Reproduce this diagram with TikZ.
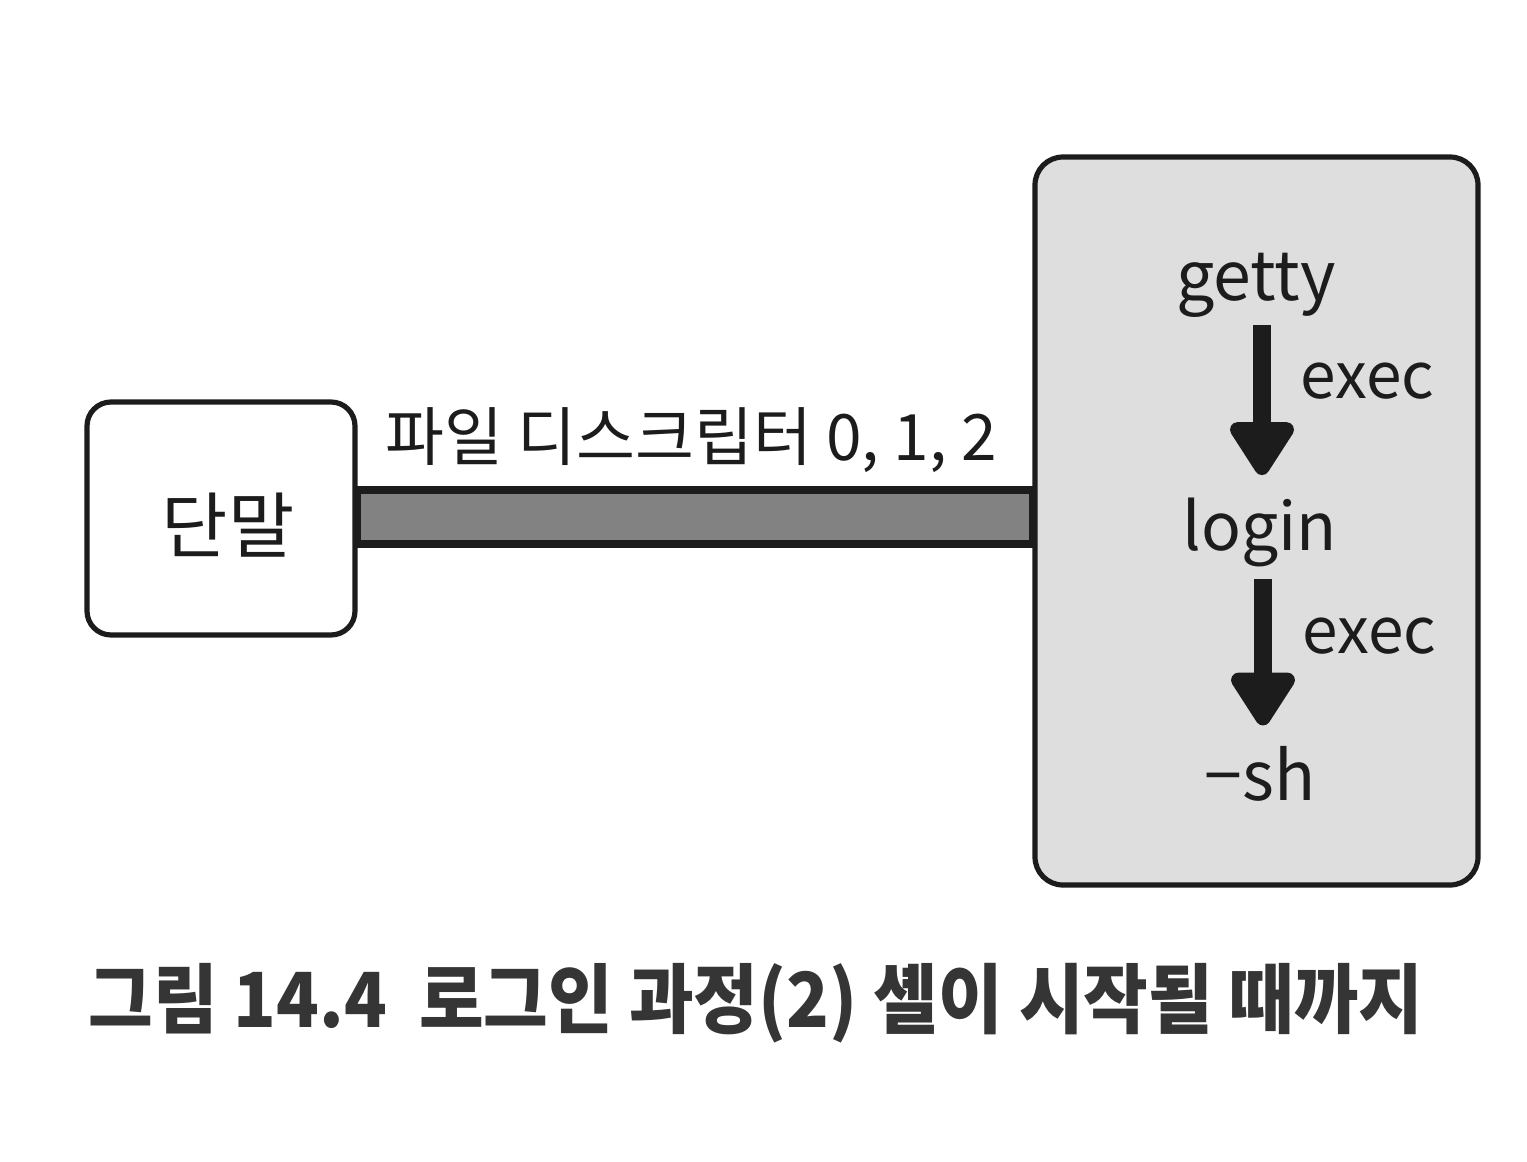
\documentclass[tikz,border=0pt]{standalone}
\usepackage{fontspec}
\setmainfont{Noto Sans CJK KR}
\usetikzlibrary{arrows.meta}
\definecolor{ink}{HTML}{1C1C1C}
\definecolor{capink}{HTML}{353535}
\definecolor{boxfill}{HTML}{DEDEDE}
\definecolor{pipefill}{HTML}{828282}
\tikzset{
  roundbox/.style={draw=ink, line width=2.6pt, rounded corners=12pt, inner sep=0pt},
  proc/.style={font=\fontsize{34pt}{36pt}\selectfont, text=ink, anchor=base, inner sep=0pt},
  lbl/.style={font=\fontsize{32pt}{34pt}\selectfont, text=ink, anchor=base west, inner sep=0pt},
  bigarrow/.style={draw=ink, line width=9pt, -{Triangle[width=36pt,length=30pt,round]}},
}
\begin{document}
\begin{tikzpicture}[x=0.5pt,y=-0.5pt]
\useasboundingbox (0,0) rectangle (1527,1162);
% terminal box
\node[roundbox, fill=white, minimum width=134pt, minimum height=116.5pt] (term) at (221,518.5) {};
\node[font=\fontsize{36pt}{38pt}\selectfont, text=ink, inner sep=0pt] (termtxt) at (228,525) {단말};
% right box
\node[roundbox, fill=boxfill, minimum width=221.5pt, minimum height=364pt, rounded corners=14pt] (host) at (1256.5,521) {};
% pipe
\coordinate (pa) at (term.east |- 0,490);
\coordinate (pb) at (host.west |- 0,544);
\filldraw[fill=pipefill, draw=ink, line width=3.6pt] (pa) rectangle (pb);
\node[lbl] (fd) at (385,460) {파일 디스크립터 0, 1, 2};
% processes
\node[proc] (getty) at (1256,300) {getty};
\node[proc, font=\fontsize{33pt}{35pt}\selectfont] (login) at (1260,550) {login};
\node[proc] (sh) at (1260,800) {−sh};
\draw[bigarrow, shorten <=4pt, shorten >=11pt] (getty.south -| 1262,0) -- (login.north -| 1262,0);
\draw[bigarrow, shorten <=6pt, shorten >=10pt] (login.south -| 1263,0) -- (sh.north -| 1263,0);
\node[lbl] (exec1) at (1300,398) {exec};
\node[lbl] (exec2) at (1302,653) {exec};
% caption
\node[font=\fontsize{38pt}{40pt}\selectfont\bfseries, text=capink, anchor=base west, inner sep=0pt, xscale=0.925, transform shape] (cap) at (88,1027) {그림 14.4\ \ 로그인 과정(2) 셸이 시작될 때까지};
\end{tikzpicture}
\end{document}
